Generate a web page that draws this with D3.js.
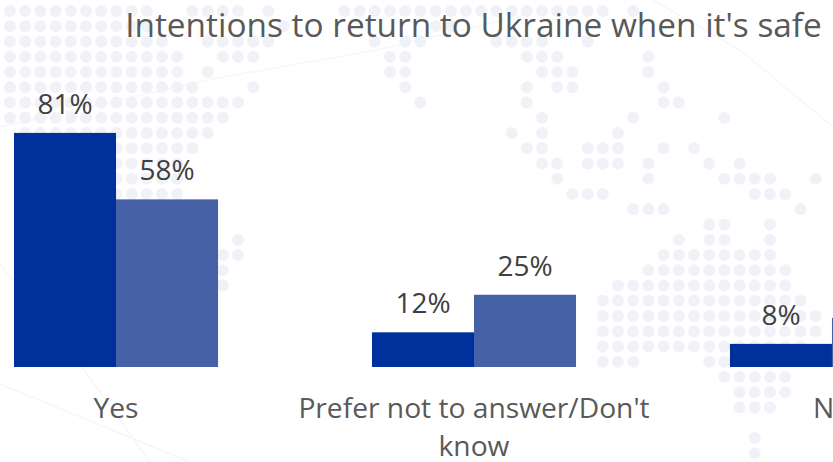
<!DOCTYPE html>
<html>
<head>
<meta charset="utf-8">
<script src="https://d3js.org/d3.v7.min.js"></script>
<style>
  html, body { margin: 0; padding: 0; background: #fff; overflow: hidden; }
  svg { display: block; font-family: "Open Sans", sans-serif; }
</style>
</head>
<body>
<svg id="chart" width="833" height="462"></svg>
<script>
const categories = ['Yes', "Prefer not to answer/Don't know", 'No'];
const seriesNames = ['first', 'second'];
const firstValues = [81, 12, 8];
const secondValues = [58, 25, 17];
const titleText = "Intentions to return to Ukraine when it's safe";

// faint dot map behind the chart: [row, first column, last column]
const dotRuns = [
    [0, 0, 9], [0, 12, 15], [0, 17, 17], [0, 22, 39], [0, 41, 41],
    [1, 0, 9], [1, 18, 18], [1, 28, 29],
    [2, 0, 10], [2, 13, 17], [2, 24, 24], [2, 26, 27], [2, 32, 35], [2, 38, 38],
    [3, 0, 11], [3, 14, 16], [3, 25, 26], [3, 34, 36], [3, 42, 42],
    [4, 0, 11], [4, 13, 13], [4, 25, 26], [4, 35, 37], [4, 42, 42],
    [5, 0, 12], [5, 16, 16], [5, 26, 26], [5, 34, 34], [5, 36, 37], [5, 43, 43],
    [6, 0, 15], [6, 27, 27], [6, 34, 34], [6, 43, 44],
    [7, 0, 14], [7, 35, 35], [7, 41, 41], [7, 47, 47],
    [8, 1, 13], [8, 33, 33], [8, 35, 35], [8, 40, 40],
    [9, 1, 12], [9, 34, 35], [9, 38, 40], [9, 43, 43], [9, 45, 45],
    [10, 7, 11], [10, 35, 36], [10, 38, 40], [10, 42, 42], [10, 46, 46], [10, 48, 48],
    [11, 7, 11], [11, 36, 36], [11, 42, 42], [11, 47, 50], [11, 53, 53],
    [12, 7, 11], [12, 37, 39], [12, 49, 51],
    [13, 41, 43], [13, 52, 52],
    [14, 46, 47], [14, 50, 50],
    [15, 15, 15], [15, 44, 44], [15, 46, 47], [15, 50, 50],
    [16, 14, 15], [16, 43, 50],
    [17, 14, 14], [17, 42, 51],
    [18, 14, 14], [18, 40, 51],
    [19, 39, 52], [20, 39, 53], [21, 39, 53], [22, 39, 52],
    [23, 39, 41], [23, 46, 47],
    [24, 47, 51], [25, 48, 51], [26, 48, 50],
    [28, 49, 49], [29, 49, 49]
];

// faint lines of the same backdrop
const backdropLines = [
    [[0, 127], [207, 80], [377, 50], [530, 14]],
    [[653, 0], [740, 50], [833, 127]],
    [[0, 264], [87, 374], [150, 462]],
    [[0, 384], [190, 462]]
];

const width = 833;
const height = 462;
const baseline = 367;

const svg = d3.select('#chart');

svg.append('defs')
    .append('filter')
    .attr('id', 'soft')
    .append('feGaussianBlur')
    .attr('stdDeviation', 0.7);

// backdrop
const backdrop = svg.append('g').attr('filter', 'url(#soft)');
const line = d3.line();
backdrop.selectAll('path')
    .data(backdropLines)
    .enter()
    .append('path')
    .attr('d', line)
    .attr('fill', 'none')
    .attr('stroke', '#f7f7f9')
    .attr('stroke-width', 1.5);

const dots = dotRuns.flatMap(([row, from, to]) =>
    d3.range(from, to + 1).map((col) => ({ row, col })));
backdrop.selectAll('circle')
    .data(dots)
    .enter()
    .append('circle')
    .attr('cx', (d) => 10 + d.col * 15.2)
    .attr('cy', (d) => 11 + d.row * 15.25)
    .attr('r', 6)
    .attr('fill', '#f1f1f8');

// scales
const xScale = d3.scaleBand()
    .domain(categories)
    .range([14, 934])
    .paddingInner(0.43)
    .paddingOuter(0);

const xInner = d3.scaleBand()
    .domain(seriesNames)
    .range([0, xScale.bandwidth()]);

const yScale = d3.scaleLinear()
    .domain([0, 100])
    .range([baseline, baseline - 289]);

const colour = d3.scaleOrdinal()
    .domain(seriesNames)
    .range(['#00309c', '#4661a5']);

const rows = categories.map((category, i) => ({
    category,
    values: [
        { series: 'first', value: firstValues[i] },
        { series: 'second', value: secondValues[i] }
    ]
}));

// bars
const groups = svg.selectAll('.group')
    .data(rows)
    .enter()
    .append('g')
    .attr('class', 'group')
    .attr('transform', (d) => `translate(${xScale(d.category)},0)`);

groups.selectAll('rect')
    .data((d) => d.values)
    .enter()
    .append('rect')
    .attr('x', (d) => xInner(d.series))
    .attr('y', (d) => yScale(d.value))
    .attr('width', xInner.bandwidth())
    .attr('height', (d) => baseline - yScale(d.value))
    .attr('fill', (d) => colour(d.series));

// value labels
groups.selectAll('text')
    .data((d) => d.values)
    .enter()
    .append('text')
    .attr('x', (d) => xInner(d.series) + xInner.bandwidth() / 2)
    .attr('y', (d) => yScale(d.value) - 19)
    .attr('text-anchor', 'middle')
    .attr('font-size', 28)
    .attr('fill', '#404040')
    .text((d) => d.value + '%');

// x axis
const xAxis = svg.append('g')
    .attr('transform', `translate(0,${baseline})`)
    .call(d3.axisBottom(xScale).tickSize(0).tickPadding(0));
xAxis.select('.domain').remove();
xAxis.selectAll('text')
    .attr('font-family', '"Open Sans", sans-serif')
    .attr('font-size', 28.2)
    .attr('fill', '#595959')
    .call(wrap, 358);

// title
svg.append('text')
    .attr('x', 473.5)
    .attr('y', 37)
    .attr('text-anchor', 'middle')
    .attr('font-size', 33.4)
    .attr('fill', '#595959')
    .text(titleText);

function wrap(selection, maxWidth) {
    selection.each(function () {
        const text = d3.select(this);
        const words = text.text().split(' ');
        text.text(null).attr('y', null).attr('dy', null);
        const lineHeight = 38;
        let lineNo = 0;
        let current = [];
        let tspan = text.append('tspan').attr('x', 0).attr('y', 51);
        words.forEach((word) => {
            current.push(word);
            tspan.text(current.join(' '));
            if (tspan.node().getComputedTextLength() > maxWidth && current.length > 1) {
                current.pop();
                tspan.text(current.join(' '));
                current = [word];
                lineNo++;
                tspan = text.append('tspan').attr('x', 0).attr('y', 51 + lineNo * lineHeight).text(word);
            }
        });
    });
}
</script>
</body>
</html>
